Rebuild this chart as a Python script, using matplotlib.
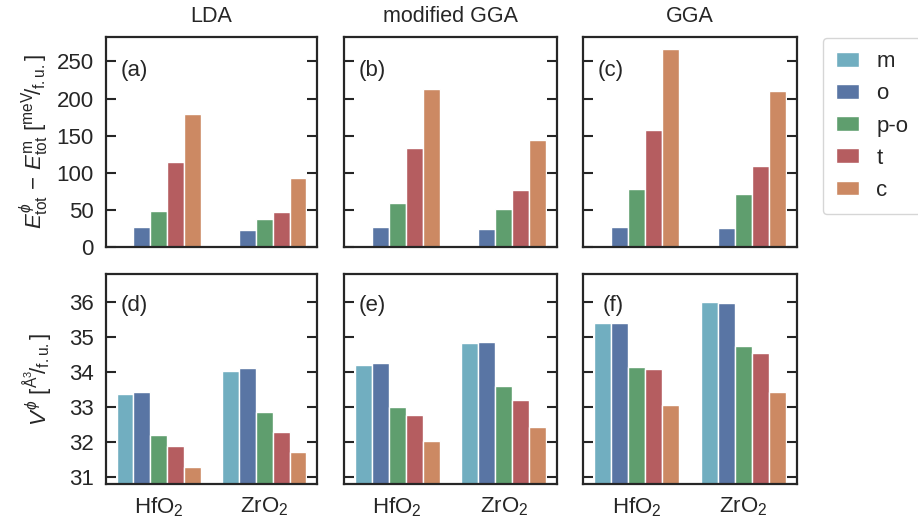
import matplotlib
matplotlib.use("Agg")
import matplotlib.pyplot as plt
import matplotlib.patches as mpatches
import numpy as np

plt.rcParams['font.family'] = ['Liberation Sans', 'DejaVu Sans']
plt.rcParams['mathtext.fontset'] = 'custom'
plt.rcParams['mathtext.rm'] = 'Liberation Sans'
plt.rcParams['mathtext.it'] = 'Liberation Sans:italic'
plt.rcParams['mathtext.bf'] = 'Liberation Sans:bold'
plt.rcParams['font.size'] = 16

# data
methods = ['LDA', 'modified GGA', 'GGA']
compounds = ['HfO$_2$', 'ZrO$_2$']
phases = ['m', 'o', 'p-o', 't', 'c']
colors = ['#71aec0', '#5975a4', '#5f9e6e', '#b55d60', '#cc8963']

# energy difference to monoclinic phase (meV/f.u.), rows: HfO2, ZrO2
energy_lda = [[0, 26.9, 48.0, 114.5, 178.6], [0, 23.3, 38.2, 46.7, 93.4]]
energy_mgga = [[0, 27.0, 59.0, 133.7, 212.7], [0, 23.8, 51.6, 76.7, 143.6]]
energy_gga = [[0, 27.4, 78.5, 158.0, 267.0], [0, 25.6, 70.9, 108.6, 210.5]]

# volume per formula unit (A^3/f.u.)
volume_lda = [[33.36, 33.44, 32.21, 31.90, 31.28], [34.03, 34.11, 32.86, 32.30, 31.72]]
volume_mgga = [[34.20, 34.26, 33.00, 32.78, 32.02], [34.83, 34.87, 33.59, 33.19, 32.42]]
volume_gga = [[35.40, 35.39, 34.14, 34.10, 33.05], [35.99, 35.96, 34.73, 34.54, 33.42]]

energies = [energy_lda, energy_mgga, energy_gga]
volumes = [volume_lda, volume_mgga, volume_gga]
top_labels = ['(a)', '(b)', '(c)']
bottom_labels = ['(d)', '(e)', '(f)']

W, H = 918, 527
fig = plt.figure(figsize=(W / 100, H / 100), dpi=100)

col_x = [(106, 317), (344, 557), (583, 797)]
row_y = [(37, 247), (274, 484)]


def make_axes(col, row):
    x0, x1 = col_x[col]
    y0, y1 = row_y[row]
    return fig.add_axes([x0 / W, 1 - y1 / H, (x1 - x0) / W, (y1 - y0) / H])


def style_axes(ax):
    for sp in ax.spines.values():
        sp.set_linewidth(1.6)
        sp.set_color('#262626')
    ax.tick_params(axis='y', direction='in', left=True, right=True, pad=9,
                   length=7, width=1.5, color='#262626', labelcolor='#262626')
    ax.tick_params(axis='x', length=0, labelcolor='#262626', pad=8)


def draw_bars(ax, values):
    width = 0.8 / len(phases)
    x = np.arange(len(compounds))
    for i, phase in enumerate(phases):
        vals = [values[j][i] for j in range(len(compounds))]
        ax.bar(x - 0.4 + width * (i + 0.5), vals, width=width, color=colors[i],
               edgecolor='white', linewidth=1.0, label=phase)
    ax.set_xlim(-0.5, 1.5)
    ax.set_xticks(x)


for c in range(3):
    ax = make_axes(c, 0)
    draw_bars(ax, energies[c])
    ax.set_ylim(0, 283)
    ax.set_yticks([0, 50, 100, 150, 200, 250])
    ax.set_xticklabels([])
    style_axes(ax)
    ax.set_title(methods[c], fontsize=15.5, pad=11, color='#262626')
    ax.text(0.07, 0.84, top_labels[c], transform=ax.transAxes, va='center', ha='left', color='#262626')
    if c == 0:
        ax.set_ylabel(r'$E_{\mathrm{tot}}^{\phi}\,-\,E_{\mathrm{tot}}^{\mathrm{m}}$ $[^{\mathrm{meV}}\!/_{\mathrm{f.u.}}]$',
                      color='#262626', labelpad=4)
    else:
        ax.set_yticklabels([])

    ax = make_axes(c, 1)
    draw_bars(ax, volumes[c])
    ax.set_ylim(30.8, 36.8)
    ax.set_yticks([31, 32, 33, 34, 35, 36])
    ax.set_xticklabels(compounds)
    style_axes(ax)
    lx = 0.09 if c == 2 else 0.07
    ax.text(lx, 0.85, bottom_labels[c], transform=ax.transAxes, va='center', ha='left', color='#262626')
    if c == 0:
        ax.set_ylabel(r'$V^{\phi}$ $[^{\mathrm{\AA}^3}\!/_{\mathrm{f.u.}}]$', color='#262626', labelpad=10)
    else:
        ax.set_yticklabels([])

handles = [mpatches.Patch(facecolor=colors[i], edgecolor='white', label=p) for i, p in enumerate(phases)]
leg = fig.legend(handles=handles, loc='upper left', bbox_to_anchor=(823 / W, 1 - 38 / H),
                 frameon=True, fancybox=True, fontsize=16, handlelength=1.0, handleheight=0.65,
                 handletextpad=0.8, labelspacing=0.5, borderpad=0.6, borderaxespad=0)
leg.get_frame().set_edgecolor('#cccccc')
leg.get_frame().set_linewidth(1.0)
for t in leg.get_texts():
    t.set_color('#262626')

fig.savefig('out.png', dpi=100)
